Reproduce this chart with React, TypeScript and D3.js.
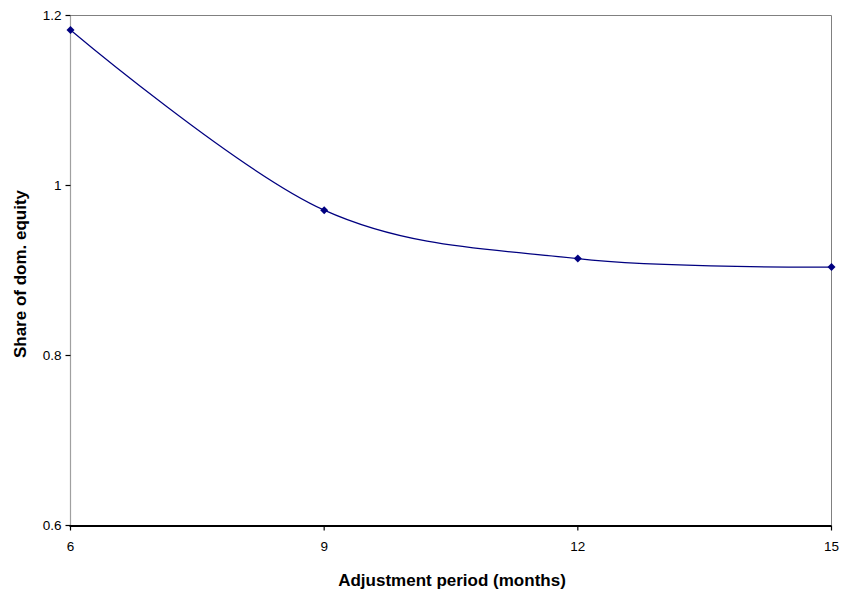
import React from "react";
import * as d3 from "d3";

const months = [6, 9, 12, 15];
const shareValues = [1.183, 0.971, 0.914, 0.904];
const xTicks = [6, 9, 12, 15];
const yTicks = [0.6, 0.8, 1.0, 1.2];

export default function App() {
  const W = 845, H = 597;
  const left = 70.5, right = 831.5, top = 15.5, bottom = 525.5;
  const x = d3.scaleLinear().domain([6, 15]).range([left, right]);
  const y = d3.scaleLinear().domain([0.6, 1.2]).range([bottom, top]);
  const pts = months.map((m, i) => [x(m), y(shareValues[i])] as [number, number]);
  const line = d3.line().curve(d3.curveCardinal.tension(0))(pts) || "";
  const font = "Arial, 'Liberation Sans', sans-serif";
  return (
    <svg width={W} height={H} style={{ position: "absolute", left: 0, top: 0 }}>
      <rect x={0} y={0} width={W} height={H} fill="#fff" />
      <line x1={left} y1={top} x2={right} y2={top} stroke="#808080" strokeWidth={1} />
      <line x1={right} y1={top} x2={right} y2={bottom} stroke="#808080" strokeWidth={1} />
      <line x1={left} y1={top} x2={left} y2={bottom} stroke="#a0a0a0" strokeWidth={1.2} />
      <line x1={left - 1} y1={bottom + 0.5} x2={right} y2={bottom + 0.5} stroke="#000" strokeWidth={2} />
      {yTicks.map((t) => (
        <g key={"y" + t}>
          <line x1={left - 5} x2={left} y1={y(t)} y2={y(t)} stroke="#000" strokeWidth={1.2} />
          <text x={left - 9} y={y(t) + 4.5} textAnchor="end" fontFamily={font} fontSize={13.5} fill="#000">
            {t === 1 ? "1" : t.toString()}
          </text>
        </g>
      ))}
      {xTicks.map((t) => (
        <g key={"x" + t}>
          <line x1={x(t)} x2={x(t)} y1={bottom} y2={bottom + 5} stroke="#000" strokeWidth={1.2} />
          <text x={x(t)} y={bottom + 25} textAnchor="middle" fontFamily={font} fontSize={13.5} fill="#000">
            {t}
          </text>
        </g>
      ))}
      <path d={line} fill="none" stroke="#000080" strokeWidth={1.2} />
      {pts.map(([px, py], i) => (
        <path key={i} d={`M${px},${py - 4}L${px + 4},${py}L${px},${py + 4}L${px - 4},${py}Z`} fill="#000080" />
      ))}
      <text x={452} y={586} textAnchor="middle" fontFamily={font} fontSize={17} fontWeight="bold" fill="#000">
        Adjustment period (months)
      </text>
      <text transform={`translate(26,274) rotate(-90)`} textAnchor="middle" fontFamily={font} fontSize={17} fontWeight="bold" fill="#000">
        Share of dom. equity
      </text>
    </svg>
  );
}
